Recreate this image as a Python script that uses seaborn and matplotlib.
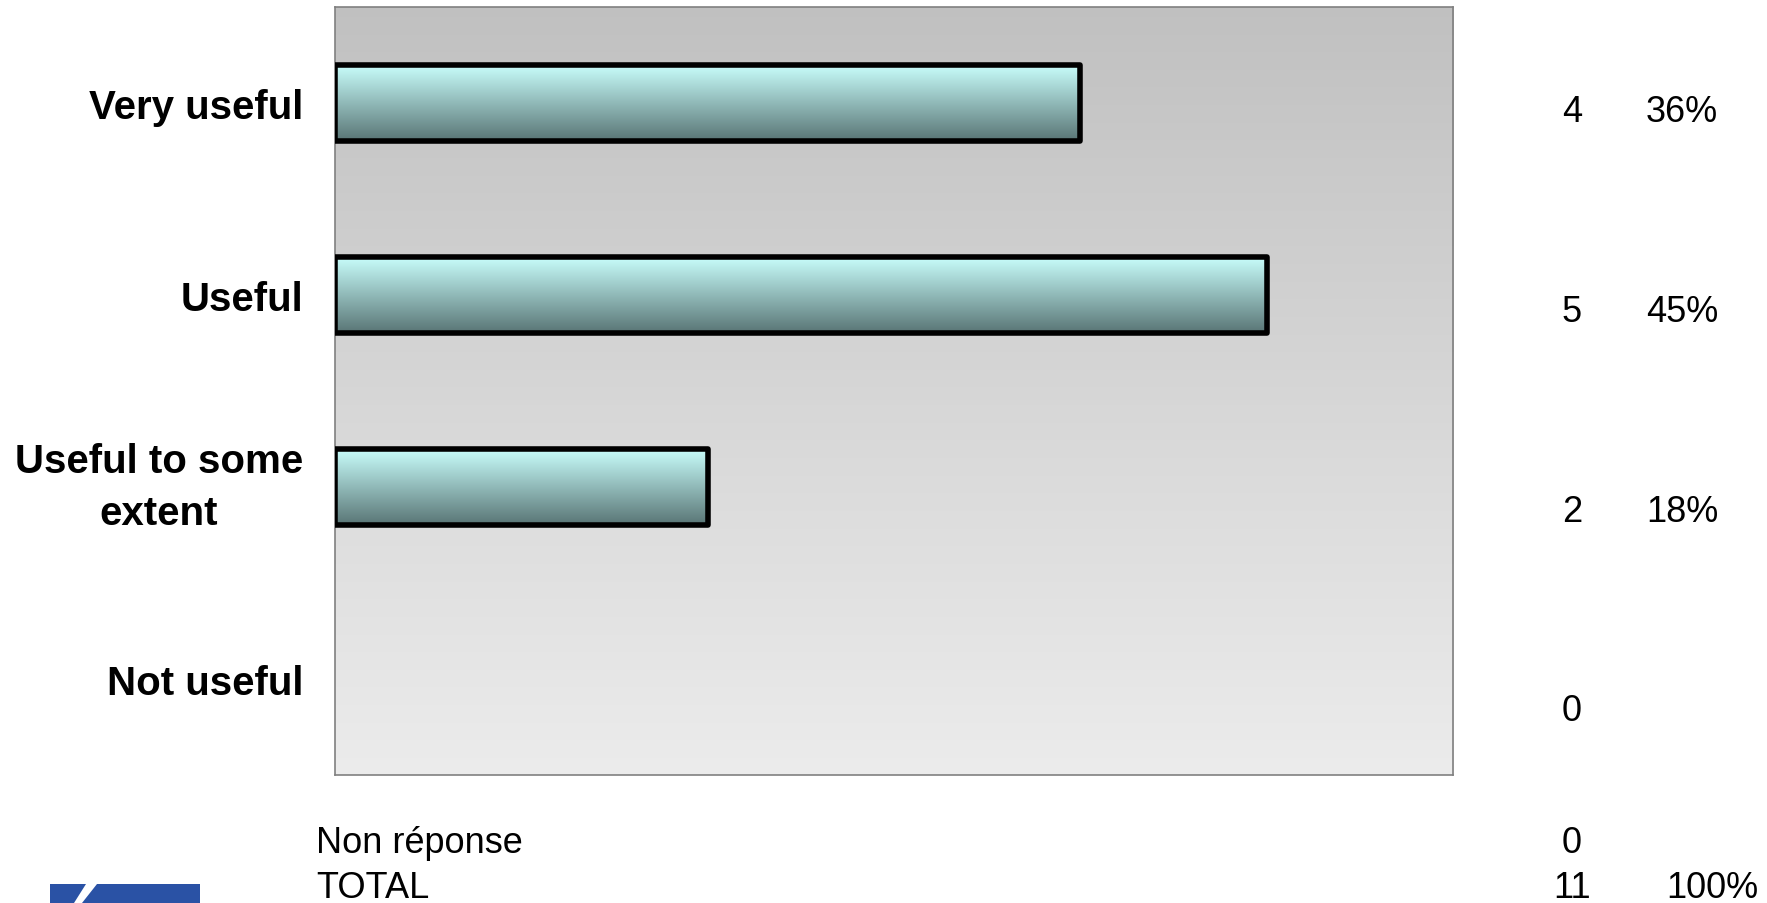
import numpy as np
import pandas as pd
import matplotlib
matplotlib.use("Agg")
import matplotlib.pyplot as plt
from matplotlib.patches import Polygon, Rectangle
import seaborn as sns

categories = ["Very useful", "Useful", "Useful to some\nextent", "Not useful"]
counts = [4, 5, 2, 0]
percent_labels = ["36%", "45%", "18%", ""]
extra_labels = ["Non réponse", "TOTAL"]
extra_counts = [0, 11]
extra_percents = ["", "100%"]

sns.set_theme(style="white")
plt.rcParams["font.family"] = ["Liberation Sans", "DejaVu Sans"]
plt.rcParams["text.color"] = "black"
plt.rcParams["ytick.color"] = "black"
plt.rcParams["ytick.labelcolor"] = "black"

W, H = 1767, 904
fig = plt.figure(figsize=(W / 100, H / 100), dpi=100)
ax = fig.add_axes([335 / W, 1 - 776 / H, (1453 - 335) / W, (776 - 8) / H])

df = pd.DataFrame({"cat": categories, "n": counts})
sns.barplot(data=df, x="n", y="cat", orient="h", width=0.4, ax=ax,
            color="white", saturation=1, edgecolor="black", linewidth=4.0)

# background gradient
bg = np.linspace(0.755, 0.925, 256).reshape(-1, 1)
bg_rgb = np.dstack([bg, bg, bg])
ax.imshow(bg_rgb, extent=[0, 1, 0, 1], transform=ax.transAxes,
          aspect="auto", origin="upper", zorder=0, interpolation="bilinear")

# bar gradients
top = np.array([0.79, 1.0, 0.99])
bot = np.array([0.35, 0.46, 0.46])
t = np.linspace(0, 1, 128).reshape(-1, 1, 1)
grad = top * (1 - t) + bot * t
for p in list(ax.patches):
    x0, y0, w, h = p.get_x(), p.get_y(), p.get_width(), p.get_height()
    if w <= 0:
        p.set_visible(False)
        continue
    im = ax.imshow(grad, extent=(x0, x0 + w, y0 + h, y0), aspect="auto",
                   origin="upper", zorder=2, interpolation="bilinear")
    im.set_clip_path(p)
    p.set_facecolor("none")
    p.set_zorder(3)
    p.set_joinstyle("round")

ax.set_xlim(0, 6)
ax.set_ylim(3.5, -0.5)
ax.set_xlabel("")
ax.set_ylabel("")
ax.set_xticks([])
ax.tick_params(axis="y", length=0, pad=23)
for lbl in ax.get_yticklabels():
    lbl.set_fontsize(29)
    lbl.set_fontweight("bold")
    lbl.set_multialignment("center")
    lbl.set_linespacing(1.45)
    if "\n" in lbl.get_text():
        lbl.set_verticalalignment("center")
    lbl.set_color("black")
for s in ax.spines.values():
    s.set_color("#808080")
    s.set_linewidth(1.2)
    s.set_visible(True)

# right-hand table
row_y = [113, 312, 512, 712]
for c, pct, yy in zip(counts, percent_labels, row_y):
    fig.text(1572 / W, 1 - yy / H, str(c), fontsize=26, ha="center", va="center", color="black")
    if pct:
        fig.text(1682 / W, 1 - yy / H, pct, fontsize=26, ha="center", va="center", color="black")

extra_y = [844, 889]
for lab, c, pct, yy in zip(extra_labels, extra_counts, extra_percents, extra_y):
    fig.text(316 / W, 1 - yy / H, lab, fontsize=26, ha="left", va="center", color="black")
    fig.text(1572 / W, 1 - yy / H, str(c), fontsize=26, ha="center", va="center", color="black")
    if pct:
        fig.text(1712 / W, 1 - yy / H, pct, fontsize=26, ha="center", va="center", color="black")

# partial logo at bottom-left
fig.patches.append(Rectangle((50 / W, 0), 150 / W, 19 / H, transform=fig.transFigure,
                             facecolor="#2a52a5", edgecolor="none"))
fig.patches.append(Polygon([(74 / W, 0), (82 / W, 0), (97 / W, 19 / H), (86 / W, 19 / H)],
                           closed=True, transform=fig.transFigure,
                           facecolor="white", edgecolor="none"))

fig.savefig("out.png", dpi=100)
